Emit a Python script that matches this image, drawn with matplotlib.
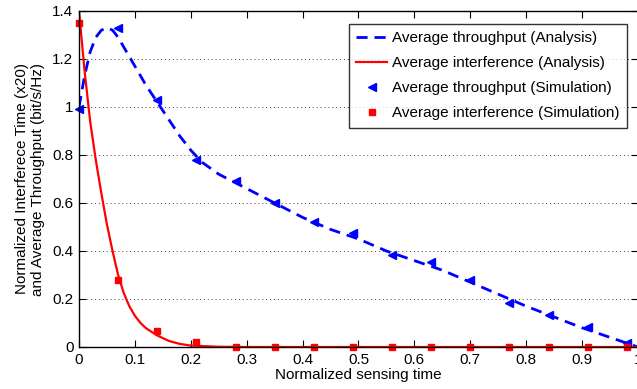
import matplotlib
matplotlib.use("Agg")
import matplotlib.pyplot as plt

plt.rcParams['font.family'] = ['Liberation Sans', 'DejaVu Sans']

# Analysis curves
thr_x = [0, 0.01, 0.02, 0.03, 0.04, 0.05, 0.06, 0.07, 0.08, 0.10, 0.12, 0.14, 0.16, 0.18, 0.20,
         0.22, 0.25, 0.30, 0.35, 0.40, 0.45, 0.50, 0.55, 0.60, 0.65, 0.70, 0.75, 0.80, 0.85,
         0.90, 0.95, 1.00]
thr_y = [1.00, 1.13, 1.23, 1.29, 1.32, 1.33, 1.32, 1.29, 1.25, 1.17, 1.09, 1.02, 0.95, 0.88, 0.82,
         0.77, 0.72, 0.66, 0.60, 0.54, 0.49, 0.45, 0.40, 0.36, 0.32, 0.27, 0.22, 0.17, 0.125,
         0.08, 0.04, 0.0]
int_x = [0, 0.01, 0.02, 0.03, 0.04, 0.05, 0.06, 0.07, 0.08, 0.09, 0.10, 0.11, 0.12, 0.14, 0.16,
         0.18, 0.20, 0.25, 0.30, 1.00]
int_y = [1.40, 1.15, 0.94, 0.78, 0.64, 0.51, 0.40, 0.30, 0.225, 0.17, 0.13, 0.10, 0.078, 0.048,
         0.026, 0.013, 0.006, 0.001, 0.0, 0.0]

# Simulation points
sim_x = [0, 0.07, 0.14, 0.21, 0.28, 0.35, 0.42, 0.49, 0.56, 0.63, 0.70, 0.77, 0.84, 0.91, 0.98]
sim_thr = [0.99, 1.33, 1.03, 0.78, 0.69, 0.60, 0.52, 0.475, 0.383, 0.355, 0.279, 0.183, 0.133,
           0.085, 0.015]
sim_int = [1.35, 0.28, 0.065, 0.02, 0, 0, 0, 0, 0, 0, 0, 0, 0, 0, 0]

W, H = 637, 389
fig = plt.figure(figsize=(W / 100, H / 100), dpi=100)
ax = fig.add_axes([79 / W, (H - 347) / H, (638 - 79) / W, (347 - 11) / H])

ax.plot(thr_x, thr_y, color='#0000ff', lw=2, ls=(0, (4, 2.5)),
        label='Average throughput (Analysis)')
ax.plot(int_x, int_y, color='#ff0000', lw=1.6, label='Average interference (Analysis)')
ax.plot(sim_x, sim_thr, ls='none', marker='<', color='#0000ff', ms=6,
        label='Average throughput (Simulation)', clip_on=False)
ax.plot(sim_x, sim_int, ls='none', marker='s', color='#ff0000', ms=4.5,
        label='Average interference (Simulation)', clip_on=False)

ax.set_xlim(0, 1)
ax.set_ylim(0, 1.4)
ax.set_xticks([0, 0.1, 0.2, 0.3, 0.4, 0.5, 0.6, 0.7, 0.8, 0.9, 1.0])
ax.set_xticklabels(['0', '0.1', '0.2', '0.3', '0.4', '0.5', '0.6', '0.7', '0.8', '0.9', '1'])
ax.set_yticks([0, 0.2, 0.4, 0.6, 0.8, 1.0, 1.2, 1.4])
ax.set_yticklabels(['0', '0.2', '0.4', '0.6', '0.8', '1', '1.2', '1.4'])
ax.tick_params(direction='in', top=True, right=True, labelsize=11, length=5, width=0.8, pad=4)
ax.yaxis.grid(True, ls=(0, (1, 3)), color='#444444', lw=0.7)
for s in ax.spines.values():
    s.set_linewidth(1.0)

ax.set_xlabel('Normalized sensing time', fontsize=11, labelpad=1)
ax.set_ylabel('Normalized Interferece Time (x20)\nand Average Throughput (bit/s/Hz)',
              fontsize=11, labelpad=5)

leg = ax.legend(loc='upper right', bbox_to_anchor=(635 / W, (H - 16) / H),
                bbox_transform=fig.transFigure, fontsize=11, frameon=True, fancybox=False,
                edgecolor='black', handlelength=2.0, borderpad=0.5, labelspacing=0.72,
                handletextpad=0.35, markerscale=1.0)
leg.get_frame().set_linewidth(1.0)

fig.savefig('out.png', dpi=100)
